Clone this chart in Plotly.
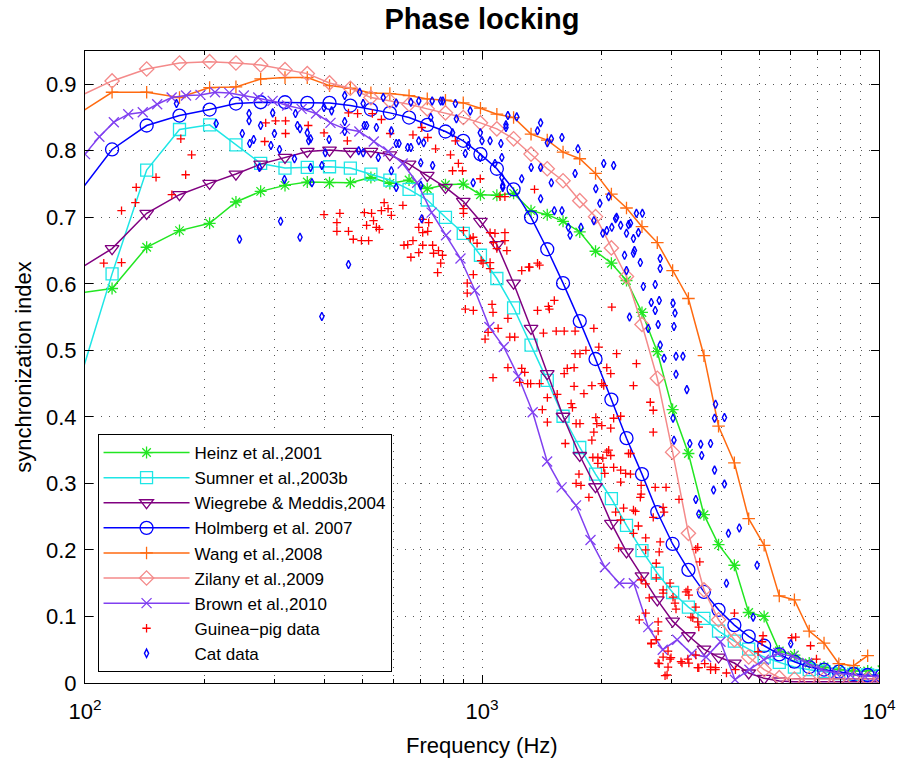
import plotly.graph_objects as go

# ---------------- data ----------------
# common frequency grid (Hz) of the model curves
model_freq = [93, 117, 143, 173, 206, 240, 277, 319, 363, 413, 466, 525, 586, 655, 728, 809,
              897, 991, 1090, 1201, 1329, 1460, 1600, 1763, 1932, 2118, 2312, 2529, 2764, 3021,
              3311, 3623, 3943, 4322, 4696, 5137, 5608, 6122, 6672, 7270, 7922, 8631, 9364, 10173]

heinz = [0.585, 0.593, 0.655, 0.680, 0.691, 0.723, 0.739, 0.748, 0.753, 0.752, 0.752, 0.760, 0.751,
         0.756, 0.743, 0.749, 0.750, 0.734, 0.733, 0.736, 0.710, 0.704, 0.694, 0.678, 0.649, 0.631,
         0.605, 0.557, 0.498, 0.411, 0.345, 0.253, 0.208, 0.177, 0.106, 0.100, 0.048, 0.042, 0.030,
         0.024, 0.020, 0.018, 0.018, 0.020]
sumner = [0.420, 0.615, 0.771, 0.832, 0.839, 0.809, 0.781, 0.774, 0.775, 0.776, 0.774, 0.765, 0.756,
          0.742, 0.726, 0.700, 0.676, 0.643, 0.608, 0.564, 0.508, 0.455, 0.401, 0.354, 0.314, 0.277,
          0.237, 0.199, 0.165, 0.136, 0.114, 0.097, 0.078, 0.063, 0.051, 0.039, 0.031, 0.024, 0.020,
          0.017, 0.014, 0.013, 0.012, 0.011]
wiegrebe = [0.616, 0.653, 0.706, 0.734, 0.751, 0.765, 0.780, 0.790, 0.799, 0.801, 0.799, 0.799, 0.794,
            0.780, 0.763, 0.745, 0.724, 0.694, 0.659, 0.601, 0.533, 0.465, 0.401, 0.342, 0.295, 0.240,
            0.197, 0.161, 0.125, 0.093, 0.071, 0.051, 0.039, 0.030, 0.015, 0.007, 0.003, 0.002, 0.002,
            0.002, 0.002, 0.002, 0.002, 0.002]
holmberg = [0.724, 0.802, 0.838, 0.853, 0.862, 0.871, 0.873, 0.873, 0.872, 0.872, 0.868, 0.862, 0.857,
            0.850, 0.839, 0.829, 0.815, 0.795, 0.773, 0.742, 0.700, 0.652, 0.601, 0.544, 0.487, 0.426,
            0.368, 0.314, 0.257, 0.209, 0.170, 0.137, 0.110, 0.087, 0.070, 0.056, 0.043, 0.032, 0.024,
            0.020, 0.017, 0.0135, 0.012, 0.011]
wang = [0.850, 0.888, 0.888, 0.880, 0.895, 0.896, 0.908, 0.910, 0.910, 0.898, 0.894, 0.887, 0.886,
        0.883, 0.878, 0.876, 0.872, 0.864, 0.855, 0.850, 0.825, 0.816, 0.798, 0.788, 0.766, 0.735,
        0.714, 0.686, 0.662, 0.620, 0.578, 0.492, 0.386, 0.331, 0.247, 0.207, 0.131, 0.125, 0.078,
        0.060, 0.029, 0.026, 0.041]
zilany = [0.877, 0.905, 0.923, 0.932, 0.934, 0.932, 0.929, 0.922, 0.916, 0.902, 0.894, 0.880, 0.875,
          0.870, 0.863, 0.857, 0.850, 0.842, 0.833, 0.818, 0.795, 0.773, 0.755, 0.725, 0.701, 0.654,
          0.611, 0.539, 0.458, 0.347, 0.225, 0.140, 0.095, 0.065, 0.039, 0.020, 0.008, 0.006, 0.006,
          0.006, 0.006, 0.006, 0.006, 0.006]

brown_freq = [100, 108.7, 118.2, 128.5, 139.8, 152.0, 165.3, 179.7, 195.4, 212.5, 231.0, 251.2, 273.2,
              297.0, 323.0, 351.2, 381.9, 415.3, 451.6, 491.0, 533.9, 580.6, 631.3, 686.5, 746.5, 811.7,
              882.6, 959.8, 1043.6, 1134.8, 1234.0, 1341.9, 1459.2, 1586.7, 1725.4, 1876.2, 2040.2,
              2218.5, 2412.4, 2623.3, 2852.6, 3101.9, 3373.0, 3667.8, 3988.4, 4337.0, 4716.1, 5128.3,
              5576.5, 6063.9, 6593.9, 7170.3, 7797.0, 8478.5, 9219.6, 10000]
brown = [0.795, 0.821, 0.843, 0.855, 0.858, 0.870, 0.880, 0.883, 0.884, 0.888, 0.887, 0.883, 0.880,
         0.875, 0.868, 0.863, 0.856, 0.842, 0.833, 0.829, 0.814, 0.799, 0.781, 0.752, 0.707, 0.673,
         0.638, 0.590, 0.535, 0.505, 0.461, 0.407, 0.333, 0.294, 0.267, 0.215, 0.174, 0.150, 0.150,
         0.084, 0.050, 0.065, 0.044, 0.039, 0.062, 0.005, 0.020, 0.035, 0.045, 0.040, 0.030, 0.020,
         0.015, 0.012, 0.010, 0.010]

guinea_pig_points = [
    (111.5, 0.631), (123.6, 0.632), (123.6, 0.710), (133.9, 0.722), (134.6, 0.745), (151, 0.760),
    (165.5, 0.734), (174.3, 0.818), (179.3, 0.764), (185.6, 0.794), (283.6, 0.814), (285.2, 0.842),
    (302, 0.845), (320, 0.845), (320, 0.826), (365, 0.838), (400, 0.827), (400, 0.704), (431, 0.692),
    (431, 0.679), (438.5, 0.706), (458, 0.815), (461, 0.857), (461, 0.679), (474, 0.667), (486, 0.856),
    (497, 0.665), (505.5, 0.707), (512, 0.688), (518, 0.665), (527, 0.706), (529.5, 0.856), (533, 0.695),
    (542, 0.685), (551, 0.682), (558, 0.847), (558, 0.710), (567, 0.722), (580, 0.713), (587, 0.826),
    (591, 0.703), (632, 0.718), (636, 0.658), (670, 0.824), (670, 0.665), (693, 0.685), (693, 0.647),
    (705, 0.835), (709, 0.677), (709, 0.658), (734, 0.692), (730, 0.820), (751, 0.658), (777, 0.650),
    (795, 0.643), (833, 0.794), (843, 0.770), (872, 0.781), (893, 0.770), (898, 0.713), (898, 0.706),
    (950, 0.670), (972, 0.661), (990, 0.758), (1068, 0.662), (1078, 0.676), (1090, 0.653), (1110, 0.731),
    (1142, 0.731), (1142, 0.677), (1142, 0.665), (764, 0.803), (857, 0.815), (1356, 0.742), (787, 0.631),
    (773, 0.617), (650, 0.659), (898, 0.680), (934, 0.668), (1048, 0.677), (1155, 0.650), (1006, 0.631),
    (1048, 0.623), (1259, 0.620), (1318, 0.625), (1380, 0.631), (662, 0.640), (951, 0.614), (995, 0.635),
    (1048, 0.632), (1396, 0.628), (1311, 0.625), (918, 0.601), (918, 0.586), (951, 0.560), (908, 0.562),
    (1060, 0.569), (1066, 0.557), (1162, 0.548), (1209, 0.520), (1175, 0.520), (1036, 0.527), (1018, 0.517),
    (1098, 0.533), (1380, 0.560), (1478, 0.562), (1470, 0.566), (1521, 0.575), (1538, 0.529), (1611, 0.529),
    (1428, 0.526), (1716, 0.529), (1913, 0.533), (1716, 0.495), (1765, 0.495), (1827, 0.500), (1969, 0.505),
    (2183, 0.495), (2062, 0.474), (2110, 0.465), (2003, 0.450), (2449, 0.480), (2407, 0.447), (1706, 0.446),
    (1806, 0.435), (1891, 0.447), (2026, 0.447), (1547, 0.434), (1461, 0.429), (1303, 0.450), (1281, 0.467),
    (1259, 0.473), (1066, 0.459), (1244, 0.452), (1396, 0.450), (1326, 0.450), (1611, 0.465), (1640, 0.473),
    (1706, 0.474), (1162, 0.474), (1419, 0.411), (1690, 0.414), (1765, 0.390), (1726, 0.390), (1935, 0.399),
    (1946, 0.390), (2146, 0.398), (2110, 0.383), (1913, 0.377), (2003, 0.387), (2700, 0.377), (2654, 0.422),
    (1677, 0.420), (1461, 0.392), (1621, 0.360), (1891, 0.365), (2085, 0.350), (2110, 0.342), (2015, 0.338),
    (1902, 0.339), (1958, 0.330), (2026, 0.324), (2235, 0.320), (2366, 0.314), (2517, 0.297), (2731, 0.294),
    (2908, 0.294), (1755, 0.314), (1726, 0.300), (1775, 0.297), (2366, 0.345), (2505, 0.279), (1859, 0.279),
    (2171, 0.257), (2235, 0.245), (2208, 0.203), (2747, 0.180), (2747, 0.158), (2517, 0.155), (2584, 0.149),
    (2859, 0.135), (2638, 0.128), (3063, 0.120), (3081, 0.111), (3265, 0.137), (3456, 0.114), (3359, 0.099),
    (3495, 0.092), (2584, 0.105), (2490, 0.095), (2778, 0.092), (2778, 0.078), (2747, 0.065), (2669, 0.059),
    (2942, 0.048), (2976, 0.036), (3300, 0.036), (3190, 0.030), (2795, 0.029), (2942, 0.024), (2891, 0.011),
    (3495, 0.023), (3639, 0.029), (3765, 0.020), (3875, 0.020), (2273, 0.263), (2407, 0.260), (2477, 0.236),
    (2407, 0.225), (2584, 0.218), (2584, 0.200), (2795, 0.197), (2811, 0.212), (2875, 0.257), (2976, 0.150),
    (2859, 0.140), (3028, 0.129), (3300, 0.140), (3319, 0.132), (3396, 0.098), (3456, 0.201), (3536, 0.182),
    (3516, 0.084), (2669, 0.060), (2859, 0.039), (2993, 0.038), (2778, 0.030), (2925, 0.012), (3171, 0.032),
    (3319, 0.030), (3456, 0.042), (3516, 0.023), (3765, 0.024), (4128, 0.015), (4349, 0.020), (4959, 0.047),
    (5104, 0.071), (5075, 0.062), (6168, 0.069), (6723, 0.056), (4324, 0.105), (6028, 0.068), (6958, 0.036),
    (3875, 0.023), (2123, 0.565), (2235, 0.401), (2339, 0.345), (2062, 0.347), (1958, 0.339), (2038, 0.315),
    (2146, 0.324), (2700, 0.410), (2859, 0.264), (2300, 0.315), (2235, 0.302), (2517, 0.284), (3135, 0.276),
    (2435, 0.258), (2700, 0.249), (3495, 0.204), (709, 0.697), (730, 0.679), (755, 0.646),
]

cat_points = [
    (170, 0.871), (214, 0.841), (259, 0.856), (259, 0.845), (277, 0.838), (249, 0.826), (266, 0.817),
    (260, 0.811), (300, 0.826), (339, 0.856), (343, 0.838), (363, 0.827), (294, 0.808), (309, 0.802),
    (297, 0.857), (370, 0.818), (400, 0.865), (412, 0.817), (403, 0.797), (492, 0.888), (505, 0.838),
    (489, 0.800), (502, 0.797), (337, 0.788), (370, 0.775), (373, 0.752), (395, 0.778), (318, 0.757),
    (275, 0.775), (311, 0.694), (245, 0.667), (348, 0.670), (461, 0.629), (395, 0.551), (348, 0.833),
    (366, 0.815), (418, 0.860), (451, 0.883), (502, 0.871), (451, 0.844), (451, 0.829), (512, 0.838),
    (542, 0.835), (608, 0.811), (618, 0.811), (662, 0.805), (693, 0.815), (713, 0.812), (548, 0.790),
    (591, 0.770), (608, 0.745), (701, 0.748), (705, 0.698), (662, 0.873), (787, 0.875), (862, 0.848),
    (743, 0.850), (843, 0.827), (990, 0.827), (1000, 0.815), (1048, 0.815), (1116, 0.811), (1149, 0.839),
    (990, 0.790), (1128, 0.745), (564, 0.880), (608, 0.872), (693, 0.875), (749, 0.875), (797, 0.875),
    (857, 0.871), (934, 0.860), (1162, 0.853), (1223, 0.851), (1405, 0.842), (1495, 0.818), (1590, 0.820),
    (1745, 0.803), (1461, 0.812), (1716, 0.766), (2026, 0.781), (2146, 0.778), (1380, 0.830), (1149, 0.835),
    (1122, 0.790), (1078, 0.781), (924, 0.808), (908, 0.796), (751, 0.778), (701, 0.782), (650, 0.805),
    (591, 0.830), (950, 0.752), (1122, 0.760), (1128, 0.748), (1259, 0.758), (1330, 0.775), (1405, 0.775),
    (1495, 0.752), (1405, 0.728), (1590, 0.710), (1521, 0.710), (1650, 0.685), (1775, 0.685), (1913, 0.695),
    (2183, 0.700), (2062, 0.680), (2449, 0.706), (2535, 0.706), (2366, 0.691), (2312, 0.676), (2407, 0.668),
    (2477, 0.677), (2421, 0.650), (2407, 0.646), (2505, 0.632), (2015, 0.676), (1667, 0.673), (2811, 0.638),
    (2811, 0.623), (2312, 0.620), (1935, 0.743), (1981, 0.721), (2085, 0.731), (2171, 0.698), (2123, 0.685),
    (2235, 0.688), (2339, 0.689), (2286, 0.643), (2549, 0.596), (2731, 0.599), (2669, 0.572), (2795, 0.575),
    (3028, 0.571), (3063, 0.556), (2778, 0.539), (3045, 0.536), (2731, 0.560), (2353, 0.550), (2623, 0.533),
    (2811, 0.508), (2875, 0.488), (3081, 0.491), (3207, 0.491), (3081, 0.464), (3281, 0.441), (3028, 0.398),
    (3045, 0.365), (3338, 0.360), (3556, 0.359), (3765, 0.360), (3576, 0.342), (3853, 0.320), (4081, 0.299),
    (3831, 0.290), (3456, 0.276), (3875, 0.419), (3853, 0.398), (4081, 0.399), (3516, 0.254), (4176, 0.225),
    (4448, 0.233), (4931, 0.177), (4128, 0.150), (4820, 0.099), (5994, 0.059),
]

tick_vals = [100, 1000, 10000]
tick_text = ["10<sup>2</sup>", "10<sup>3</sup>", "10<sup>4</sup>"]
minor_vals = [200, 300, 400, 500, 600, 700, 800, 900, 2000, 3000, 4000, 5000, 6000, 7000, 8000, 9000]

# ---------------- figure ----------------
fig = go.Figure()


def add_model(name, x, y, color, symbol, size):
    fig.add_trace(go.Scatter(
        x=x, y=y, mode="lines+markers", name=name,
        line=dict(color=color, width=1.5),
        marker=dict(symbol=symbol, size=size, color=color, line=dict(color=color, width=1.3)),
    ))


add_model("Heinz et al.,2001", model_freq, heinz, "#22e622", "asterisk-open", 10)
add_model("Sumner et al.,2003b", model_freq, sumner, "#1ee6e6", "square-open", 12)
add_model("Wiegrebe &amp; Meddis,2004", model_freq, wiegrebe, "#800080", "triangle-down-open", 12)
add_model("Holmberg et al. 2007", model_freq, holmberg, "#0000ff", "circle-open", 13)
add_model("Wang et al.,2008", model_freq[:len(wang)], wang, "#ff6a10", "cross-thin-open", 9)
add_model("Zilany et al.,2009", model_freq, zilany, "#f48a8a", "diamond-open", 11)
add_model("Brown et al.,2010", brown_freq, brown, "#8040f0", "x-thin-open", 10)

fig.add_trace(go.Scatter(
    x=[p[0] for p in guinea_pig_points], y=[p[1] for p in guinea_pig_points],
    mode="markers", name="Guinea\u2212pig data",
    marker=dict(symbol="cross-thin-open", size=6, color="#ff0000", line=dict(color="#ff0000", width=1.3)),
))
fig.add_trace(go.Scatter(
    x=[p[0] for p in cat_points], y=[p[1] for p in cat_points],
    mode="markers", name="Cat data",
    marker=dict(symbol="diamond-tall-open", size=6, color="#0000ff", line=dict(color="#0000ff", width=1.4)),
))

grid_style = dict(showgrid=True, gridcolor="#555555", gridwidth=1, griddash="1px,7px")

fig.update_layout(
    width=908, height=761,
    margin=dict(l=85, r=19, t=51, b=78),
    paper_bgcolor="white", plot_bgcolor="white",
    font=dict(family="Liberation Sans, Arial, sans-serif", color="black"),
    title=dict(text="<b>Phase locking</b>", x=0.5, xref="paper", xanchor="center",
               y=1 - 19 / 761, yref="container", yanchor="middle",
               font=dict(size=29, color="black")),
    showlegend=True,
    legend=dict(x=0.0158, y=(683 - 672) / 632, xanchor="left", yanchor="bottom",
                bordercolor="black", borderwidth=1, bgcolor="white",
                font=dict(size=17), itemwidth=86, tracegroupgap=0),
    xaxis=dict(type="log", range=[2, 4], tickvals=tick_vals, ticktext=tick_text,
               ticks="inside", ticklen=8, tickcolor="black", showline=True, linecolor="black",
               linewidth=1, mirror="ticks", zeroline=False, tickfont=dict(size=22),
               ticklabelstandoff=9,
               minor=dict(tickvals=minor_vals, ticks="inside", ticklen=4, tickcolor="black", **grid_style),
               **grid_style),
    yaxis=dict(range=[0, 0.95], tick0=0, dtick=0.1, ticks="inside", ticklen=8, tickcolor="black",
               showline=True, linecolor="black", linewidth=1, mirror="ticks", zeroline=False,
               tickfont=dict(size=22), ticklabelstandoff=3, **grid_style),
    annotations=[
        dict(text="Frequency (Hz)", x=0.5, xref="paper", y=-(745 - 683) / 632, yref="paper",
             xanchor="center", yanchor="middle", showarrow=False, font=dict(size=22)),
        dict(text="synchronization index", x=-(85 - 22) / 804, xref="paper", y=0.5, yref="paper",
             xanchor="center", yanchor="middle", textangle=-90, showarrow=False, font=dict(size=22)),
    ],
)

fig.write_html("out.html")
